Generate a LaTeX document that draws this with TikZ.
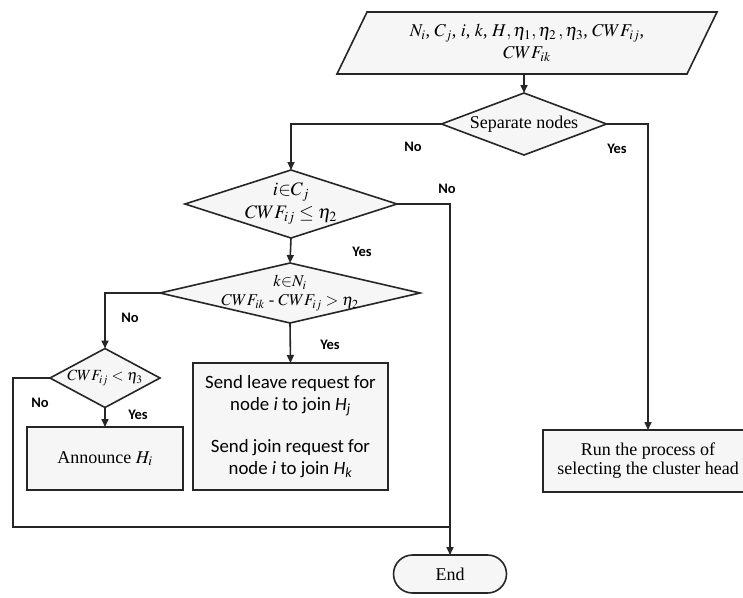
\documentclass[tikz,border=0pt]{standalone}
\usepackage{mathptmx}
\usepackage{fontspec}
\setmainfont{Liberation Serif}
\newfontfamily\calibri{Carlito}
\usetikzlibrary{shapes.geometric,arrows.meta}
\begin{document}
\begin{tikzpicture}[x=1pt,y=-1pt,
  every node/.style={inner sep=0pt, outer sep=0pt},
  line/.style={line width=1.6pt, draw=black!85},
  arr/.style={line, -{Triangle[length=8pt,width=7pt]}},
  shapefill/.style={draw=black!85, line width=1.6pt, fill=gray!7},
  proc/.style={shapefill, rectangle, align=center},
  dia/.style={shapefill, diamond},
  lab/.style={font=\calibri\bfseries\fontsize{14.5}{16}\selectfont},
  tnr/.style={font=\fontsize{18}{19}\selectfont, align=center},
]
\useasboundingbox (0,0) rectangle (743,597);

% input parallelogram
\draw[shapefill] (367,12) -- (717,12) -- (687,74) -- (337,74) -- cycle;
\node[tnr, font=\fontsize{18}{22}\selectfont] (inp) at (527,43)
  {$N_i$, $C_j$, $i$, $k$, $H,\eta_1,\eta_2\,,\eta_3$, $CWF_{ij}$,\\ $CWF_{ik}$};
\coordinate (inpb) at (524,74);

% decisions
\node[dia, minimum width=165, minimum height=62,
  label={[tnr]center:Separate nodes}] (sep) at (524,124) {};
\node[dia, minimum width=212, minimum height=68,
  label={[font=\fontsize{19}{23}\selectfont, align=center]center:$i{\in}C_j$\\ $CWF_{ij}\leq\eta_2$}] (d2) at (291,204) {};
\node[dia, minimum width=260, minimum height=60,
  label={[font=\fontsize{16.5}{19}\selectfont, align=center]center:$k{\in}N_i$\\ $CWF_{ik}$ - $CWF_{ij}>\eta_2$}] (d3) at (290,293) {};
\node[dia, minimum width=110, minimum height=59,
  label={[font=\fontsize{15.5}{18}\selectfont]center:$CWF_{ij}<\eta_3$}] (d4) at (105,378) {};

% processes
\node[proc, tnr, minimum width=156, minimum height=63] (ann) at (105,458.5)
  {Announce $H_i$};
\node[proc, minimum width=195, minimum height=127,
  font=\calibri\fontsize{18.8}{21.5}\selectfont] (send) at (290.5,426.5)
  {Send leave request for\\ node \textit{i} to join \textit{H}\textsubscript{\textit{j}}\\[21pt]
   Send join request for\\ node \textit{i} to join \textit{H}\textsubscript{\textit{k}}};
\node[proc, tnr, minimum width=210, minimum height=62] (run) at (648,461)
  {Run the process of\\ selecting the cluster head};
\node[shapefill, rectangle, rounded corners=19pt, minimum width=113, minimum height=38,
  tnr] (end) at (450,574) {End};

\coordinate (join) at (450,527);

% connectors
\draw[arr] (inpb) -- (sep.north);
\draw[arr] (sep.west) -| (d2.north);
\draw[arr] (sep.east) -| (run.north);
\draw[arr] (d2.east) -| (end.north);
\draw[arr] (d2.south) -- (d3.north);
\draw[arr] (d3.west) -| (d4.north);
\draw[arr] (d3.south) -- (send.north);
\draw[arr] (d4.south) -- (ann.north);
\draw[line] (d4.west) -- ++(-37,0) |- (join);

% labels
\node[lab] (l1) at (413,147) {No};
\node[lab] (l2) at (617,149) {Yes};
\node[lab] (l3) at (447,189) {No};
\node[lab] (l4) at (362,252) {Yes};
\node[lab] (l5) at (130,318) {No};
\node[lab] (l6) at (330,345) {Yes};
\node[lab] (l7) at (138,415) {Yes};
\node[lab] (l8) at (40,403) {No};
\end{tikzpicture}
\end{document}
